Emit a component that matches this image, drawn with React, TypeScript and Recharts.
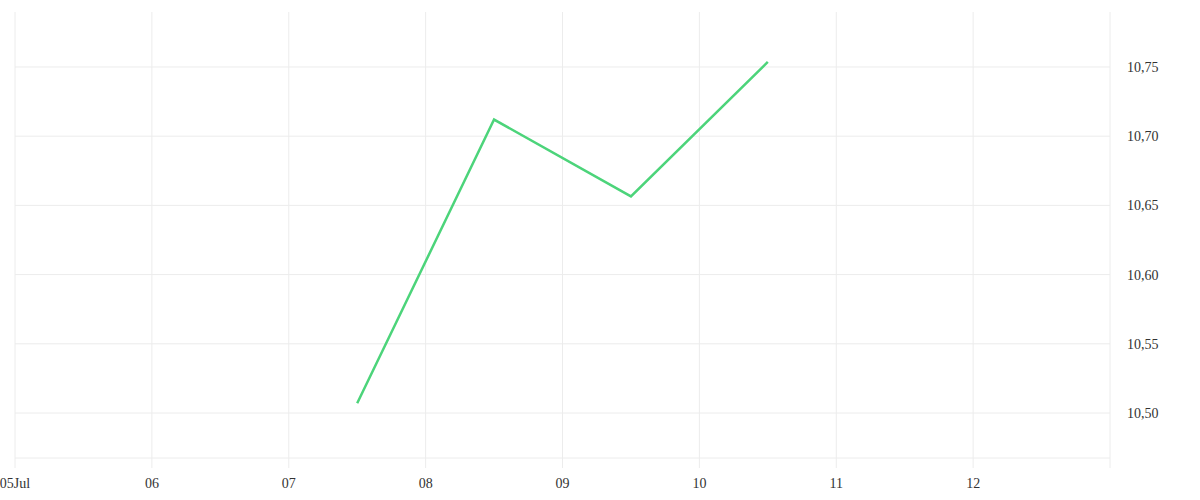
import { LineChart, Line, XAxis, YAxis, CartesianGrid, ReferenceLine } from "recharts";

// x is days since 05 Jul, points sit at midday
const days = [2.5, 3.5, 4.5, 5.5];
const prices = [10.507, 10.712, 10.6565, 10.7536];

const dayTicks = [0, 1, 2, 3, 4, 5, 6, 7, 8];
const dayLabels = ["05Jul", "06", "07", "08", "09", "10", "11", "12", ""];
const priceTicks = [10.5, 10.55, 10.6, 10.65, 10.7, 10.75];

const data = days.map((d, i) => ({ day: d, price: prices[i] }));

const tickStyle = { fontFamily: "'Liberation Serif', serif", fontSize: 14, fill: "#333" };

export default function App() {
  return (
    <div style={{ position: "absolute", left: 0, top: 0, width: 1200, height: 500 }}>
      <LineChart width={1200} height={500} data={data} margin={{ top: 12, right: 8, bottom: 0, left: 15 }}>
        <CartesianGrid stroke="#ececec" horizontal={false} />
        {priceTicks.map((t) => (
          <ReferenceLine key={t} y={t} stroke="#ececec" />
        ))}
        <XAxis
          dataKey="day"
          type="number"
          domain={[0, 8]}
          ticks={dayTicks}
          tickFormatter={(v: number) => dayLabels[v] ?? ""}
          interval={0}
          height={42}
          stroke="#ececec"
          tickSize={10}
          tickMargin={10}
          tick={tickStyle}
        />
        <YAxis
          orientation="right"
          type="number"
          domain={[10.4675, 10.7897]}
          ticks={priceTicks}
          tickFormatter={(v: number) => v.toFixed(2).replace(".", ",")}
          width={82}
          axisLine={false}
          tickLine={false}
          tickMargin={11}
          tick={{ ...tickStyle, textAnchor: "start" }}
        />
        <Line
          type="linear"
          dataKey="price"
          stroke="#4cd47a"
          strokeWidth={2.5}
          dot={false}
          isAnimationActive={false}
        />
      </LineChart>
    </div>
  );
}
